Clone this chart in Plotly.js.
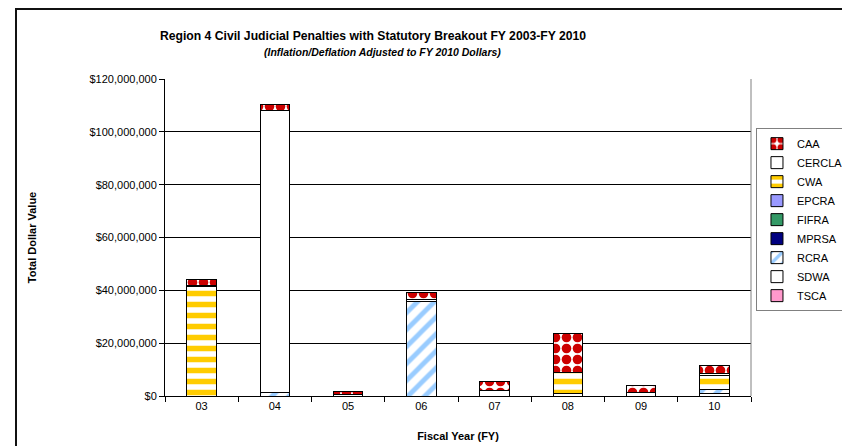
<!DOCTYPE html>
<html>
<head>
<meta charset="utf-8">
<script src="https://cdn.plot.ly/plotly-3.0.1.min.js"></script>
<style>
  html, body { margin: 0; padding: 0; background: #fff; }
  #wrap { position: relative; width: 842px; height: 446px; overflow: hidden; }
  #chart { width: 900px; height: 446px; }
  #frame { position: absolute; left: 15px; top: 8px; width: 900px; height: 500px;
           border-left: 2px solid #111; border-top: 2px solid #111; pointer-events: none; }
</style>
</head>
<body>
<div id="wrap">
  <div id="chart"></div>
  <div id="frame"></div>
</div>
<script>
// Fiscal years (category labels)
const years = ['03', '04', '05', '06', '07', '08', '09', '10'];

// Penalties by statute, in dollars
const CAA    = [2200000, 2500000, 1300000, 2400000, 3300000, 14600000, 2300000, 3000000];
const CERCLA = [400000, 106800000, 0, 0, 2200000, 0, 1500000, 1000000];
const CWA    = [41600000, 0, 0, 1000000, 0, 8000000, 0, 5100000];
const EPCRA  = [0, 0, 0, 0, 0, 0, 0, 0];
const FIFRA  = [0, 0, 0, 0, 0, 0, 0, 0];
const MPRSA  = [0, 0, 0, 0, 0, 0, 0, 0];
const RCRA   = [0, 1200000, 0, 35700000, 0, 0, 0, 1700000];
const SDWA   = [0, 0, 500000, 0, 0, 1000000, 0, 800000];
const TSCA   = [0, 0, 0, 0, 0, 0, 0, 0];

const yTicks = [0, 20000000, 40000000, 60000000, 80000000, 100000000, 120000000];
const yTickText = ['$0', '$20,000,000', '$40,000,000', '$60,000,000', '$80,000,000', '$100,000,000', '$120,000,000'];

function bar(name, values, marker) {
  return {
    type: 'bar', name: name, x: years, y: values,
    marker: Object.assign({ line: { color: '#000', width: 1 } }, marker),
    hoverinfo: 'name+y'
  };
}

// bottom-to-top stacking order; legend reversed so CAA shows first
const traces = [
  bar('TSCA', TSCA, { color: '#FF99CC' }),
  bar('SDWA', SDWA, { color: '#FFFFFF' }),
  bar('RCRA', RCRA, { color: '#FFFFFF', pattern: { shape: '/', fgcolor: '#99CCFF', bgcolor: '#FFFFFF', fgopacity: 1, size: 12, solidity: 0.4, fillmode: 'overlay' } }),
  bar('MPRSA', MPRSA, { color: '#000080' }),
  bar('FIFRA', FIFRA, { color: '#339966' }),
  bar('EPCRA', EPCRA, { color: '#9999FF' }),
  bar('CWA', CWA, { color: '#FFFFFF', pattern: { shape: '-', fgcolor: '#FFCC00', bgcolor: '#FFFFFF', fgopacity: 1, size: 11, solidity: 0.5, fillmode: 'overlay' } }),
  bar('CERCLA', CERCLA, { color: '#FFFFFF' }),
  bar('CAA', CAA, { color: '#FFFFFF', pattern: { shape: '.', fgcolor: '#CC0000', bgcolor: '#FFFFFF', fgopacity: 1, size: 11, solidity: 0.6, fillmode: 'overlay' } })
];

const font = 'Liberation Sans, Arial, sans-serif';

const layout = {
  width: 900, height: 446,
  margin: { l: 165, r: 149, t: 79, b: 50 },
  paper_bgcolor: '#FFFFFF', plot_bgcolor: '#FFFFFF',
  barmode: 'stack', bargap: 0.6,
  font: { family: font, size: 11, color: '#000' },
  title: {
    text: '<b>Region 4 Civil Judicial Penalties with Statutory Breakout FY 2003-FY 2010</b>',
    font: { family: font, size: 12.2, color: '#000' },
    x: 0.355, xref: 'paper', xanchor: 'center',
    y: 0.93, yref: 'container', yanchor: 'top'
  },
  annotations: [
    { text: '<b><i>(Inflation/Deflation Adjusted to FY 2010 Dollars)</i></b>', xref: 'paper', yref: 'paper',
      x: 0.372, y: 1.0, xanchor: 'center', yanchor: 'bottom', showarrow: false,
      font: { family: font, size: 10.5, color: '#000' }, yshift: 19 }
  ],
  xaxis: {
    type: 'category',
    showline: true, linecolor: '#000', linewidth: 1, mirror: false,
    ticks: 'outside', ticklen: 5, tickcolor: '#000',
    tickson: 'boundaries',
    tickfont: { family: font, size: 11, color: '#000' },
    title: { text: '<b>Fiscal Year (FY)</b>', font: { family: font, size: 11, color: '#000' }, standoff: 21 },
    showgrid: false
  },
  yaxis: {
    range: [0, 120000000],
    tickvals: yTicks, ticktext: yTickText,
    showline: true, linecolor: '#000', linewidth: 1,
    ticks: 'outside', ticklen: 5, tickcolor: '#000',
    showgrid: true, gridcolor: '#000', gridwidth: 1,
    zeroline: false,
    tickfont: { family: font, size: 11, color: '#000' },
    title: { text: '<b>Total Dollar Value</b>', font: { family: font, size: 11, color: '#000' }, standoff: 50 }
  },
  shapes: [
    { type: 'line', xref: 'paper', yref: 'paper', x0: 1, x1: 1, y0: 0, y1: 1, line: { color: '#808080', width: 1 } }
  ],
  legend: {
    traceorder: 'reversed',
    x: 1.0085, xanchor: 'left', y: 0.845, yanchor: 'top',
    bordercolor: '#808080', borderwidth: 1, bgcolor: '#FFFFFF',
    font: { family: font, size: 11, color: '#000' },
    itemwidth: 30, tracegroupgap: 0
  },
  showlegend: true
};

Plotly.newPlot('chart', traces, layout, { displayModeBar: false, staticPlot: true });
</script>
</body>
</html>
